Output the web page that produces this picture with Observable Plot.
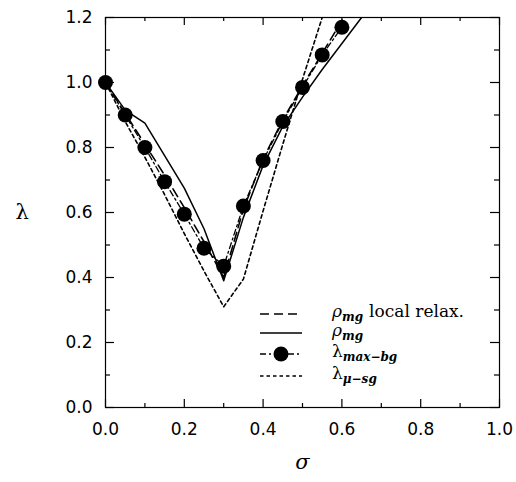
<!DOCTYPE html>
<html>
<head>
<meta charset="utf-8">
<script src="https://cdn.jsdelivr.net/npm/d3@7"></script>
<script src="https://cdn.jsdelivr.net/npm/@observablehq/plot@0.6"></script>
<style>
  html, body { margin: 0; padding: 0; background: #fff; }
</style>
</head>
<body>
<div id="chart"></div>
<script>
// ---- data ----
const sigmaPts = [0, 0.05, 0.1, 0.15, 0.2, 0.25, 0.3, 0.35, 0.4, 0.45, 0.5, 0.55, 0.6];
const lamMaxBg = [1.0, 0.9, 0.8, 0.695, 0.595, 0.49, 0.435, 0.62, 0.76, 0.88, 0.985, 1.085, 1.17];

const sigmaRho = [0, 0.05, 0.1, 0.15, 0.2, 0.25, 0.3, 0.35, 0.4, 0.45, 0.5, 0.55, 0.6, 0.65];
const rhoMg    = [1.0, 0.915, 0.875, 0.775, 0.675, 0.55, 0.39, 0.585, 0.745, 0.865, 0.955, 1.04, 1.12, 1.2];
const rhoLocal = [1.0, 0.905, 0.81, 0.715, 0.615, 0.51, 0.40, 0.61, 0.765, 0.885, 0.99, 1.09, 1.19, 1.3];

const sigmaMu = [0, 0.05, 0.1, 0.15, 0.2, 0.25, 0.3, 0.35, 0.4, 0.45, 0.5, 0.55, 0.6];
const lamMuSg = [1.0, 0.88, 0.77, 0.655, 0.535, 0.42, 0.31, 0.395, 0.605, 0.81, 1.01, 1.2, 1.4];

const xMajor = [0, 0.2, 0.4, 0.6, 0.8, 1.0];
const xMinor = [0.1, 0.3, 0.5, 0.7, 0.9];
const yMajor = [0, 0.2, 0.4, 0.6, 0.8, 1.0, 1.2];
const yMinor = [0.1, 0.3, 0.5, 0.7, 0.9, 1.1];

const legendItems = ["rhoLocal", "rho", "lamMax", "lamMu"];

// ---- build ----
const W = 516, H = 482, mL = 105, mR = 17, mT = 17, mB = 75;
const pw = W - mL - mR, ph = H - mT - mB;
const pts = (xs, ys) => xs.map((x, i) => ({x, y: ys[i]}));

const chart = Plot.plot({
  width: W, height: H,
  marginLeft: mL, marginRight: mR, marginTop: mT, marginBottom: mB,
  x: {domain: [0, 1]},
  y: {domain: [0, 1.2]},
  style: {fontFamily: "DejaVu Sans", fontSize: "17px", color: "black", background: "white"},
  marks: [
    Plot.frame({stroke: "black", strokeWidth: 1.2}),
    // inward ticks
    Plot.ruleX(xMajor, {x: d => d, insetTop: ph - 8, stroke: "black", strokeWidth: 1.2}),
    Plot.ruleX(xMajor, {x: d => d, insetBottom: ph - 8, stroke: "black", strokeWidth: 1.2}),
    Plot.ruleX(xMinor, {x: d => d, insetTop: ph - 4, stroke: "black", strokeWidth: 1.2}),
    Plot.ruleX(xMinor, {x: d => d, insetBottom: ph - 4, stroke: "black", strokeWidth: 1.2}),
    Plot.ruleY(yMajor, {y: d => d, insetRight: pw - 9, stroke: "black", strokeWidth: 1.2}),
    Plot.ruleY(yMajor, {y: d => d, insetLeft: pw - 9, stroke: "black", strokeWidth: 1.2}),
    Plot.ruleY(yMinor, {y: d => d, insetRight: pw - 5, stroke: "black", strokeWidth: 1.2}),
    Plot.ruleY(yMinor, {y: d => d, insetLeft: pw - 5, stroke: "black", strokeWidth: 1.2}),
    Plot.axisX(xMajor, {tickSize: 0, tickPadding: 15, tickFormat: d3.format(".1f"), label: null, fontSize: 17}),
    Plot.axisY(yMajor, {tickSize: 0, tickPadding: 13, tickFormat: d3.format(".1f"), label: null, fontSize: 17}),
    // series
    Plot.line(pts(sigmaMu, lamMuSg), {x: "x", y: "y", stroke: "black", strokeWidth: 1.6, strokeDasharray: "3.5,3", clip: true}),
    Plot.line(pts(sigmaRho, rhoMg), {x: "x", y: "y", stroke: "black", strokeWidth: 1.5, clip: true}),
    Plot.line(pts(sigmaRho, rhoLocal), {x: "x", y: "y", stroke: "black", strokeWidth: 1.6, strokeDasharray: "9,5", clip: true}),
    Plot.line(pts(sigmaPts, lamMaxBg), {x: "x", y: "y", stroke: "black", strokeWidth: 1.3, strokeDasharray: "6,3,2,3", clip: true}),
    Plot.dot(pts(sigmaPts, lamMaxBg), {x: "x", y: "y", r: 7.5, fill: "black", stroke: "none"}),
    // axis titles
    Plot.text(["σ"], {frameAnchor: "bottom", dy: 61, fontSize: 21, fontStyle: "italic", fontFamily: "DejaVu Serif"}),
    Plot.text(["λ"], {frameAnchor: "left", dx: -90, fontSize: 21, fontFamily: "DejaVu Serif"})
  ]
});

document.getElementById("chart").appendChild(chart);

// ---- legend ----
const svg = d3.select(chart);
const lg = svg.append("g").attr("fill", "black").attr("font-family", "DejaVu Serif").attr("text-anchor", "start");
const rowsY = [314, 333, 354, 376];
const lx0 = 260, lx1 = 302, tx = 332;
const styles = {
  rhoLocal: {dash: "9,5", w: 1.6},
  rho: {dash: null, w: 1.5},
  lamMax: {dash: "6,3,2,3", w: 1.3},
  lamMu: {dash: "3.5,3", w: 1.6}
};
legendItems.forEach((k, i) => {
  const y = rowsY[i];
  const s = styles[k];
  const ln = lg.append("line").attr("x1", lx0).attr("x2", lx1).attr("y1", y).attr("y2", y)
    .attr("stroke", "black").attr("stroke-width", s.w);
  if (s.dash) ln.attr("stroke-dasharray", s.dash);
  if (k === "lamMax") lg.append("circle").attr("cx", (lx0 + lx1) / 2).attr("cy", y).attr("r", 7.5);
  const t = lg.append("text").attr("x", tx).attr("y", y + 3).attr("font-size", 17).attr("text-anchor", "start");
  if (k === "rhoLocal" || k === "rho") {
    t.append("tspan").attr("font-style", "italic").text("ρ");
    t.append("tspan").attr("font-style", "italic").attr("font-weight", "bold").attr("font-size", 12).attr("dy", 4).text("mg");
    if (k === "rhoLocal") t.append("tspan").attr("dy", -4).attr("dx", 6).text("local relax.");
  } else {
    t.append("tspan").text("λ");
    t.append("tspan").attr("font-style", "italic").attr("font-weight", "bold").attr("font-size", 12).attr("dy", 4)
      .text(k === "lamMax" ? "max−bg" : "μ−sg");
  }
});
</script>
</body>
</html>
